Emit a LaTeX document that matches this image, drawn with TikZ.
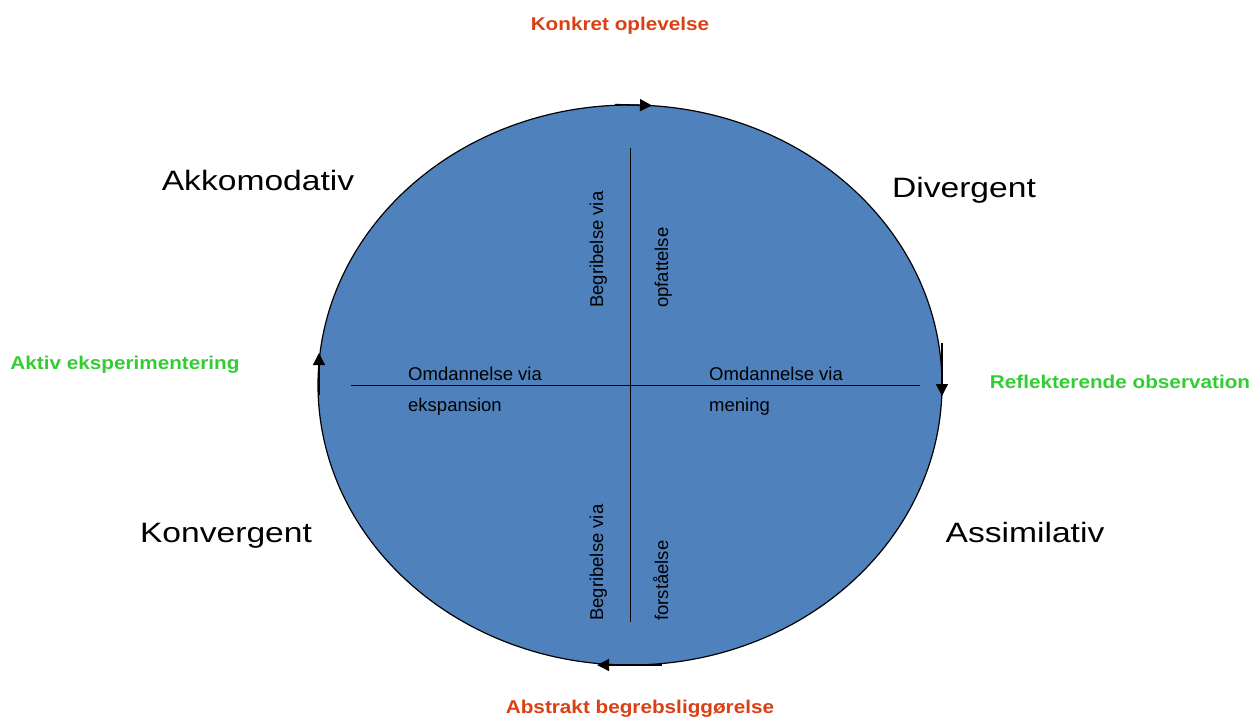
\documentclass[tikz,border=0pt]{standalone}
\usepackage{fontspec}
\setmainfont{Liberation Sans}
\usetikzlibrary{arrows.meta,shapes.geometric}

\definecolor{cyclefill}{RGB}{79,129,189}
\definecolor{phaseorange}{RGB}{218,64,20}
\definecolor{phasegreen}{RGB}{51,204,51}

\begin{document}
\begin{tikzpicture}[x=1pt,y=-1pt]
     % Define styles
     \tikzstyle{phase} = [font=\fontsize{18.5}{22}\selectfont\bfseries, xscale=1.12, inner sep=0pt, anchor=base]
     \tikzstyle{learner} = [font=\fontsize{28}{32}\selectfont, xscale=1.2, inner sep=0pt, anchor=base]
     \tikzstyle{inside} = [font=\fontsize{18.5}{22}\selectfont, inner sep=0pt, anchor=base west]
     \tikzstyle{turn} = [line width=1.3pt, -{Triangle[length=12pt,width=12pt]}]

     \useasboundingbox (0,0) rectangle (1256,722);

     % The cycle itself
     \node[ellipse, draw, line width=1.2pt, fill=cyclefill, minimum width=624pt, minimum height=560pt, inner sep=0pt] (cycle) at (630,385) {};

     % Cross in the middle
     \coordinate (up)    at (630,148);
     \coordinate (down)  at (630,622);
     \coordinate (west)  at (351,385);
     \coordinate (east)  at (920,385);
     \draw (up) -- (down);
     \draw (west) -- (east);

     % Direction marks on the rim
     \coordinate (t0) at (615,104.5);  \coordinate (t1) at (652,105.5);
     \coordinate (r0) at (942,343);    \coordinate (r1) at (942,396);
     \coordinate (b0) at (662,665);    \coordinate (b1) at (597,665);
     \coordinate (l0) at (319,395);    \coordinate (l1) at (319,353);
     \draw[turn] (t0) -- (t1);
     \draw[turn] (r0) -- (r1);
     \draw[turn] (b0) -- (b1);
     \draw[turn] (l0) -- (l1);

     % Phases of the cycle
     \node[phase, text=phaseorange] (concrete)  at (620,31)  {Konkret oplevelse};
     \node[phase, text=phasegreen]  (reflect)   at (1120,388) {Reflekterende observation};
     \node[phase, text=phaseorange] (abstract)  at (640,713) {Abstrakt begrebsliggørelse};
     \node[phase, text=phasegreen]  (active)    at (125,369) {Aktiv eksperimentering};

     % Learning styles
     \node[learner] (accom)  at (258,191) {Akkomodativ};
     \node[learner] (diverg) at (964,198) {Divergent};
     \node[learner] (conv)   at (226,542) {Konvergent};
     \node[learner] (assim)  at (1025,542) {Assimilativ};

     % Texts along the horizontal line
     \node[inside] (omleft)  at (408,380) {Omdannelse via};
     \node[inside] (expans)  at (408,411) {ekspansion};
     \node[inside] (omright) at (709,380) {Omdannelse via};
     \node[inside] (mean)    at (709,411) {mening};

     % Texts along the vertical line
     \node[inside, rotate=90] (begtop)  at (603,308) {Begribelse via};
     \node[inside, rotate=90] (percept) at (668,308) {opfattelse};
     \node[inside, rotate=90] (begbot)  at (603,621) {Begribelse via};
     \node[inside, rotate=90] (underst) at (668,621) {forståelse};
\end{tikzpicture}
\end{document}
